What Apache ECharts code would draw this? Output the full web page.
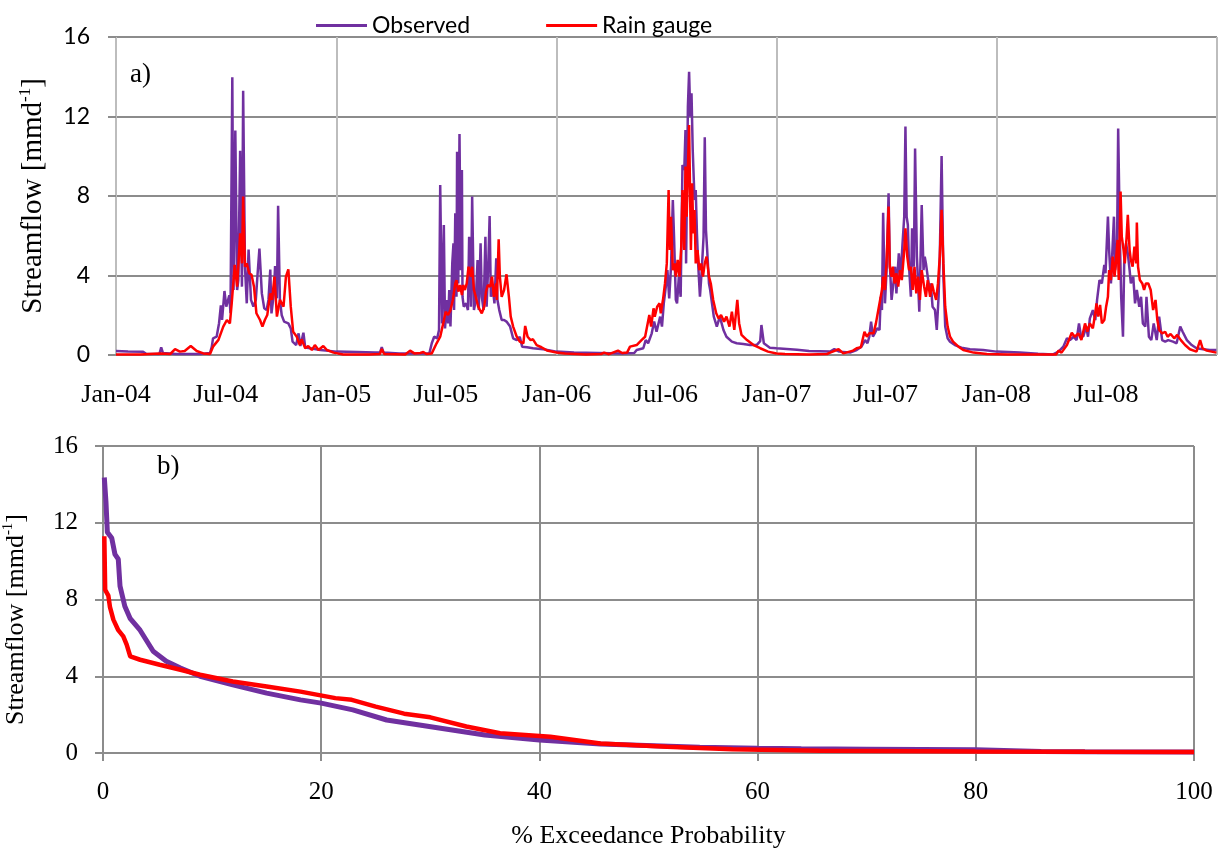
<!DOCTYPE html>
<html>
<head>
<meta charset="utf-8">
<script src="https://cdn.jsdelivr.net/npm/echarts@6/dist/echarts.min.js"></script>
<style>
  html, body { margin: 0; padding: 0; background: #fff; }
  #chart { width: 1225px; height: 851px; }
</style>
</head>
<body>
<div id="chart"></div>
<script>
// Daily streamflow (mm/d), days counted from 1 Jan 2004
const obsDay = [
  0, 20, 45, 50, 72, 75, 78, 100, 140, 156,
  159, 161, 167, 171, 174, 176, 180, 183, 188, 190, 193, 195, 198, 201, 203, 206, 209, 211, 214, 217,
  220, 224, 228, 232, 235, 238, 242, 246, 250, 253, 256, 258, 262, 264, 267, 269, 272, 275, 279, 286,
  290, 293, 299, 303, 306, 311, 314, 322, 339, 366,
  400, 430, 438, 441, 444, 470, 500, 520,
  524, 528, 533, 536, 538, 541, 544, 546, 549, 551, 553, 555, 558, 560, 561, 563, 565, 566, 568, 570,
  572, 574, 575, 577, 581, 584, 586, 589, 591, 594, 597, 600, 602, 605, 607, 610, 613, 615, 618, 620,
  622, 625, 628, 631, 633, 636, 640, 644, 648, 654, 659, 665, 670, 674, 682, 692, 709, 731,
  760, 800, 840, 860,
  864, 875, 879, 883, 889, 893, 897, 903, 906, 909, 913, 915, 918, 921, 924, 926, 929, 931, 934, 937,
  940, 943, 945, 946, 949, 951, 953, 955, 957, 960, 962, 964, 966, 969, 972, 975, 977, 979, 981, 984,
  986, 989, 992, 997, 1002, 1008, 1013, 1022, 1030, 1041, 1052, 1063, 1069, 1071, 1075, 1085, 1096,
  1130, 1150, 1185, 1192, 1200, 1218, 1229,
  1237, 1243, 1247, 1250, 1253, 1256, 1259, 1263, 1267, 1269, 1271, 1273, 1276, 1279, 1282, 1284, 1287,
  1290, 1293, 1295, 1299, 1302, 1305, 1308, 1310, 1312, 1314, 1316, 1319, 1321, 1324, 1326, 1329, 1331,
  1333, 1335, 1337, 1340, 1342, 1344, 1347, 1350, 1352, 1355, 1359, 1362, 1365, 1367, 1370, 1373, 1376,
  1380, 1384, 1392, 1403, 1417, 1439, 1461,
  1500, 1530, 1555,
  1564, 1572, 1578, 1583, 1589, 1594, 1598, 1601, 1605, 1610, 1613, 1616, 1621, 1625, 1628, 1632, 1636,
  1640, 1642, 1646, 1648, 1651, 1653, 1656, 1658, 1661, 1663, 1666, 1668, 1671, 1673, 1676, 1679, 1682,
  1684, 1688, 1691, 1694, 1698, 1701, 1704, 1708, 1710, 1714, 1718, 1722, 1727, 1731, 1736, 1741, 1746,
  1754, 1760, 1766, 1770, 1777, 1785, 1793, 1804, 1815, 1826
];
const obsFlow = [
  0.2, 0.18, 0.16, 0.06, 0.05, 0.38, 0.1, 0.05, 0.05, 0.1,
  0.42, 0.84, 0.92, 1.6, 2.5, 1.76, 3.22, 2.43, 3.0, 2.1, 13.97, 3.27, 11.3, 3.27, 3.77, 10.28, 3.44, 13.3, 4.44, 2.6,
  5.3, 2.77, 2.43, 2.77, 4.1, 5.35, 3.1, 2.35, 2.26, 2.77, 4.3, 2.09, 3.1, 4.48, 2.85, 7.51, 2.77, 2.0, 1.68, 1.59,
  1.34, 0.67, 0.5, 1.09, 0.45, 1.12, 0.38, 0.34, 0.25, 0.17,
  0.15, 0.12, 0.12, 0.39, 0.12, 0.08, 0.08, 0.08,
  0.59, 0.92, 0.84, 1.26, 8.55, 1.59, 6.54, 1.34, 2.77, 1.59, 3.27, 1.43, 4.61, 5.62, 2.26, 7.13, 2.93, 10.23, 3.6, 11.12,
  4.27, 9.31, 2.93, 2.43, 2.6, 2.26, 5.95, 2.43, 7.98, 2.26, 2.77, 4.78, 2.26, 5.62, 2.93, 2.26, 5.95, 2.43, 4.78, 6.99,
  2.93, 3.44, 2.6, 4.86, 2.77, 2.26, 1.76, 1.76, 1.68, 1.43, 0.84, 0.75, 0.92, 0.42, 0.39, 0.34, 0.29, 0.17,
  0.12, 0.1, 0.08, 0.1,
  0.25, 0.34, 0.75, 0.59, 1.09, 1.68, 1.17, 1.93, 1.43, 2.6, 3.6, 4.27, 2.85, 4.44, 7.8, 5.96, 2.77, 2.6, 3.94, 2.93,
  9.56, 9.31, 11.32, 4.61, 12.49, 14.25, 11.99, 13.17, 10.32, 7.8, 8.3, 6.12, 4.61, 2.93, 4.27, 5.96, 10.95, 6.29, 5.28, 3.6,
  3.27, 2.6, 1.93, 1.43, 1.93, 1.26, 0.92, 0.67, 0.59, 0.55, 0.5, 0.5, 0.7, 1.51, 0.59, 0.37, 0.34,
  0.27, 0.2, 0.17, 0.3, 0.17, 0.12, 0.25,
  0.42, 0.75, 0.59, 0.92, 1.68, 0.92, 1.09, 1.34, 1.26, 2.93, 2.26, 7.16, 2.6, 4.44, 8.14, 4.61, 2.77,
  3.6, 4.44, 3.1, 5.11, 3.94, 5.53, 6.96, 11.49, 6.96, 6.54, 4.44, 2.93, 6.37, 4.44, 10.39, 4.95, 3.6,
  2.18, 4.78, 7.55, 4.27, 4.95, 4.61, 3.94, 3.27, 3.6, 2.43, 2.26, 1.26, 2.93, 4.95, 10.01, 3.94, 1.43,
  0.84, 0.67, 0.5, 0.37, 0.29, 0.25, 0.17,
  0.12, 0.06, 0.03,
  0.17, 0.42, 0.84, 0.75, 0.92, 0.75, 1.59, 1.01, 0.92, 1.43, 0.92, 1.84, 2.26, 1.76, 2.77, 3.77, 3.6,
  4.53, 4.11, 6.96, 5.28, 3.6, 4.95, 6.96, 4.27, 4.95, 11.4, 5.62, 2.93, 0.92, 4.61, 5.62, 5.11, 4.27,
  3.6, 3.94, 2.6, 3.27, 2.43, 2.93, 1.59, 1.43, 2.93, 0.92, 0.75, 1.59, 0.75, 1.93, 0.75, 0.67, 0.75,
  0.67, 0.59, 1.43, 1.17, 0.75, 0.5, 0.34, 0.29, 0.25, 0.25
];

const gaugeDay = [
  0, 40, 73, 90, 98, 106, 114, 124, 134, 145, 156,
  161, 170, 178, 184, 189, 192, 197, 201, 206, 209, 211, 214, 217, 221, 225, 229, 233, 239, 243, 247,
  251, 256, 259, 263, 267, 272, 278, 282, 286, 290, 294, 300, 305, 308, 314, 319, 325, 330, 336, 344,
  350, 361, 377,
  420, 438, 441, 445, 480, 488, 491, 495, 505, 510, 515, 524,
  532, 538, 543, 547, 551, 555, 559, 563, 565, 568, 571, 574, 576, 579, 582, 585, 589, 591, 594, 597,
  601, 604, 607, 611, 614, 617, 621, 624, 627, 631, 632, 635, 637, 640, 644, 648, 652, 655, 659, 665,
  670, 676, 679, 683, 688, 692, 698, 706, 715, 731,
  745, 780, 805, 810, 818, 833, 840, 848,
  853, 864, 872, 878, 885, 888, 892, 894, 898, 902, 904, 908, 911, 914, 917, 919, 921, 924, 927, 929,
  932, 935, 938, 940, 943, 945, 947, 949, 951, 954, 956, 958, 960, 962, 965, 968, 971, 974, 977, 980,
  984, 987, 991, 996, 1000, 1004, 1009, 1013, 1018, 1022, 1026, 1031, 1034, 1038, 1047, 1058, 1069,
  1082, 1096,
  1110, 1150, 1180, 1185, 1199, 1207, 1223, 1229, 1236,
  1242, 1246, 1250, 1257, 1261, 1265, 1268, 1271, 1273, 1276, 1279, 1282, 1284, 1287, 1289, 1292, 1295,
  1298, 1301, 1304, 1308, 1310, 1313, 1316, 1319, 1322, 1325, 1328, 1331, 1334, 1337, 1341, 1344, 1347,
  1351, 1354, 1357, 1361, 1364, 1367, 1370, 1373, 1376, 1380, 1384, 1389, 1398, 1406, 1423, 1445,
  1480, 1530, 1560,
  1564, 1569, 1578, 1586, 1591, 1597, 1602, 1608, 1612, 1616, 1621, 1625, 1627, 1630, 1633, 1636, 1640,
  1643, 1646, 1648, 1651, 1654, 1657, 1659, 1662, 1664, 1667, 1669, 1672, 1674, 1677, 1679, 1682, 1684,
  1687, 1690, 1693, 1694, 1696, 1699, 1703, 1706, 1709, 1713, 1717, 1721, 1725, 1728, 1731, 1736, 1741,
  1745, 1750, 1756, 1761, 1767, 1774, 1782, 1793, 1799, 1803, 1810, 1826
];
const gaugeFlow = [
  0.02, 0.02, 0.08, 0.05, 0.29, 0.17, 0.2, 0.45, 0.2, 0.08, 0.05,
  0.42, 0.76, 1.43, 1.76, 1.59, 2.6, 4.53, 3.44, 6.12, 4.61, 7.97, 4.44, 4.61, 4.11, 4.03, 3.44, 2.1, 1.76, 1.43, 1.76,
  2.01, 3.1, 2.77, 3.94, 1.93, 2.77, 2.43, 3.94, 4.31, 2.43, 1.17, 0.92, 0.5, 0.79, 0.34, 0.45, 0.25, 0.5, 0.25, 0.45,
  0.25, 0.12, 0.03,
  0.02, 0.05, 0.3, 0.05, 0.03, 0.22, 0.26, 0.08, 0.1, 0.15, 0.05, 0.08,
  0.59, 0.92, 1.59, 2.18, 2.01, 2.26, 2.77, 3.6, 3.77, 3.19, 3.52, 3.02, 3.52, 3.27, 3.6, 4.44, 3.94, 4.44, 3.27, 2.93,
  2.43, 2.26, 2.1, 2.43, 3.19, 3.52, 3.44, 3.94, 2.93, 3.6, 2.77, 5.82, 3.94, 2.93, 3.27, 4.06, 2.93, 1.93, 1.43, 0.92,
  0.67, 0.59, 1.46, 0.92, 0.75, 0.79, 0.5, 0.39, 0.23, 0.13,
  0.08, 0.03, 0.05, 0.12, 0.04, 0.22, 0.1, 0.12,
  0.42, 0.5, 0.75, 0.92, 2.01, 1.43, 2.35, 1.93, 2.43, 2.6, 2.1, 2.85, 3.6, 4.61, 8.3, 5.28, 6.96, 4.27, 4.61, 3.94,
  4.78, 3.94, 5.45, 8.3, 5.28, 9.48, 6.96, 9.31, 11.57, 5.28, 8.64, 6.12, 7.3, 4.61, 5.28, 4.27, 4.61, 3.94, 4.61, 4.95,
  3.94, 3.6, 2.77, 2.1, 1.84, 2.01, 1.68, 1.93, 1.43, 2.18, 1.26, 2.77, 1.6, 1.01, 0.75, 0.5, 0.34,
  0.17, 0.08,
  0.05, 0.03, 0.05, 0.12, 0.29, 0.08, 0.22, 0.34, 0.39,
  1.17, 0.92, 1.09, 1.09, 1.59, 2.26, 2.35, 3.27, 3.94, 3.27, 4.95, 7.47, 4.44, 3.94, 4.44, 3.6, 4.11,
  3.44, 4.27, 3.77, 5.28, 6.37, 4.95, 4.27, 4.44, 3.27, 4.44, 3.1, 3.94, 2.77, 4.27, 3.44, 2.93, 3.77,
  2.93, 3.6, 3.19, 2.77, 3.6, 4.95, 7.3, 4.61, 2.43, 1.43, 0.92, 0.67, 0.42, 0.25, 0.12, 0.05,
  0.02, 0.02, 0.02,
  0.22, 0.12, 0.5, 1.12, 0.92, 1.09, 0.75, 1.59, 1.17, 1.59, 1.34, 2.1, 2.6, 1.93, 2.52, 1.59, 1.76,
  2.43, 2.93, 4.27, 3.77, 4.95, 3.94, 4.61, 5.79, 3.77, 8.22, 5.95, 5.28, 4.61, 5.95, 7.05, 5.28, 4.78,
  4.44, 5.45, 4.61, 6.66, 4.44, 3.77, 3.6, 3.27, 3.6, 3.6, 3.27, 2.26, 2.77, 1.76, 1.26, 1.09, 1.17,
  0.92, 1.06, 0.84, 1.01, 0.75, 0.5, 0.29, 0.17, 0.75, 0.34, 0.22, 0.12
];

// Flow duration curves: % of time a flow is equalled or exceeded
const fdcObsPct = [0.12, 0.27, 0.4, 0.8, 1.1, 1.4, 1.56, 2.0, 2.5, 3.4, 4.6, 5.8, 7.1, 8.9, 11.9, 15, 18.1, 20,
  22.9, 26, 29, 35, 40, 45.6, 54.7, 60, 64, 70, 80, 86, 90, 100];
const fdcObsFlow = [14.36, 13.1, 11.5, 11.2, 10.35, 10.1, 8.7, 7.65, 7.0, 6.4, 5.3, 4.78, 4.43, 4.0, 3.55, 3.12, 2.77, 2.6,
  2.25, 1.72, 1.46, 0.94, 0.68, 0.47, 0.3, 0.25, 0.22, 0.2, 0.17, 0.08, 0.06, 0.05];
const fdcGaugePct = [0.12, 0.2, 0.49, 0.64, 0.95, 1.4, 1.86, 2.17, 2.5, 3.4, 5.2, 7.1, 8.9, 11.9, 15, 18.1, 21.3,
  22.8, 25, 27.6, 30, 33.3, 36.4, 41, 45.6, 51.7, 57.7, 65.7, 80, 90, 100];
const fdcGaugeFlow = [11.3, 8.5, 8.2, 7.6, 6.95, 6.4, 6.08, 5.65, 5.03, 4.86, 4.6, 4.34, 4.08, 3.73, 3.47, 3.2, 2.86,
  2.77, 2.42, 2.05, 1.86, 1.38, 1.03, 0.85, 0.5, 0.33, 0.2, 0.12, 0.08, 0.06, 0.05];

// Axis ticks
const labelDates = ['2004-01-01', '2004-07-01', '2005-01-01', '2005-07-01', '2006-01-01', '2006-07-01',
  '2007-01-01', '2007-07-01', '2008-01-01', '2008-07-01'];
const gridDates = ['2004-01-01', '2005-01-01', '2006-01-01', '2007-01-01', '2008-01-01', '2009-01-01'];
const monthNames = ['Jan', 'Feb', 'Mar', 'Apr', 'May', 'Jun', 'Jul', 'Aug', 'Sep', 'Oct', 'Nov', 'Dec'];
const seriesNames = ['Observed', 'Rain gauge'];

const DAY_MS = 86400000;
const EPOCH = Date.UTC(2004, 0, 1);
const toDay = s => Math.round((Date.parse(s + 'T00:00:00Z') - EPOCH) / DAY_MS);
const dayLabel = v => {
  const d = new Date(EPOCH + Math.round(v) * DAY_MS);
  return monthNames[d.getUTCMonth()] + '-' + String(d.getUTCFullYear()).slice(2);
};
const zip = (xs, ys) => xs.map((x, i) => [x, ys[i]]);

const SERIF = '"Liberation Serif", "Times New Roman", serif';
const SANS = 'Lato, "Open Sans", sans-serif';
const PURPLE = '#7030A0';
const RED = '#FF0000';
const GRID_DARK = '#8c8c8c';
const GRID_LIGHT = '#bdbdbd';

const flowName = '{t|Streamflow [mmd}{s|-1}{t|]}';
function flowNameStyle(size, sup) {
  return {
    fontFamily: SERIF, fontSize: size, color: '#000',
    rich: {
      t: { fontFamily: SERIF, fontSize: size, color: '#000', lineHeight: Math.round(size * 1.15) },
      s: { fontFamily: SERIF, fontSize: sup, color: '#000', verticalAlign: 'top', lineHeight: Math.round(sup * 1.1) }
    }
  };
}

const chart = echarts.init(document.getElementById('chart'), null, { renderer: 'canvas' });

const option = {
  animation: false,
  backgroundColor: '#fff',
  legend: {
    data: seriesNames.map(name => ({ name, icon: 'rect' })),
    left: 311,
    top: 9,
    itemWidth: 51,
    itemHeight: 3,
    itemGap: 76,
    textStyle: { fontFamily: SANS, fontSize: 23, color: '#000' }
  },
  graphic: [
    { type: 'text', left: 130, top: 61, style: { text: 'a)', font: '27px "Liberation Serif"', fill: '#000' } },
    { type: 'text', left: 157, top: 453, style: { text: 'b)', font: '27px "Liberation Serif"', fill: '#000' } }
  ],
  grid: [
    { left: 116, right: 8, top: 37, bottom: 496, containLabel: false, outerBoundsMode: 'none' },
    { left: 103, right: 31, top: 446, bottom: 98, containLabel: false, outerBoundsMode: 'none' }
  ],
  xAxis: [
    {
      type: 'value', gridIndex: 0,
      min: toDay(gridDates[0]), max: toDay(gridDates[gridDates.length - 1]),
      axisLine: { show: false },
      axisTick: { show: false, customValues: gridDates.map(toDay) },
      splitLine: { show: true, lineStyle: { color: GRID_LIGHT, width: 2 } },
      axisLabel: {
        customValues: labelDates.map(toDay),
        formatter: dayLabel,
        fontFamily: SERIF, fontSize: 26, color: '#000', margin: 27
      }
    },
    {
      type: 'value', gridIndex: 1, min: 0, max: 100, interval: 20,
      axisLine: { show: false },
      axisTick: { show: true, length: 8, lineStyle: { color: GRID_DARK, width: 2 } },
      splitLine: { show: true, lineStyle: { color: GRID_DARK, width: 2 } },
      axisLabel: { fontFamily: SERIF, fontSize: 25, color: '#000', margin: 27 },
      name: '% Exceedance Probability',
      nameLocation: 'middle',
      nameGap: 70,
      nameTextStyle: { fontFamily: SERIF, fontSize: 26, color: '#000' }
    }
  ],
  yAxis: [
    {
      type: 'value', gridIndex: 0, min: 0, max: 16, interval: 4,
      axisLine: { show: false },
      axisTick: { show: true, length: 8, lineStyle: { color: GRID_DARK, width: 2 } },
      splitLine: { show: true, lineStyle: { color: GRID_DARK, width: 2 } },
      axisLabel: { fontFamily: SANS, fontSize: 23, color: '#000', margin: 26 },
      name: flowName,
      nameLocation: 'middle',
      nameGap: 66,
      nameTextStyle: flowNameStyle(29, 17)
    },
    {
      type: 'value', gridIndex: 1, min: 0, max: 16, interval: 4,
      axisLine: { show: false },
      axisTick: { show: true, length: 8, lineStyle: { color: GRID_DARK, width: 2 } },
      splitLine: { show: true, lineStyle: { color: GRID_DARK, width: 2 } },
      axisLabel: { fontFamily: SERIF, fontSize: 25, color: '#000', margin: 25 },
      name: flowName,
      nameLocation: 'middle',
      nameGap: 72,
      nameTextStyle: Object.assign(flowNameStyle(26, 15), { padding: [0, 40, 0, 0] })
    }
  ],
  series: [
    {
      name: seriesNames[0], type: 'line', xAxisIndex: 0, yAxisIndex: 0,
      data: zip(obsDay, obsFlow), symbol: 'none', showSymbol: false,
      lineStyle: { color: PURPLE, width: 2.5 }, itemStyle: { color: PURPLE }
    },
    {
      name: seriesNames[1], type: 'line', xAxisIndex: 0, yAxisIndex: 0,
      data: zip(gaugeDay, gaugeFlow), symbol: 'none', showSymbol: false,
      lineStyle: { color: RED, width: 2.5 }, itemStyle: { color: RED }
    },
    {
      name: seriesNames[0], type: 'line', xAxisIndex: 1, yAxisIndex: 1,
      data: zip(fdcObsPct, fdcObsFlow), symbol: 'none', showSymbol: false,
      lineStyle: { color: PURPLE, width: 5 }, itemStyle: { color: PURPLE }
    },
    {
      name: seriesNames[1], type: 'line', xAxisIndex: 1, yAxisIndex: 1,
      data: zip(fdcGaugePct, fdcGaugeFlow), symbol: 'none', showSymbol: false,
      lineStyle: { color: RED, width: 4.5 }, itemStyle: { color: RED }
    }
  ]
};

chart.setOption(option);
</script>
</body>
</html>
